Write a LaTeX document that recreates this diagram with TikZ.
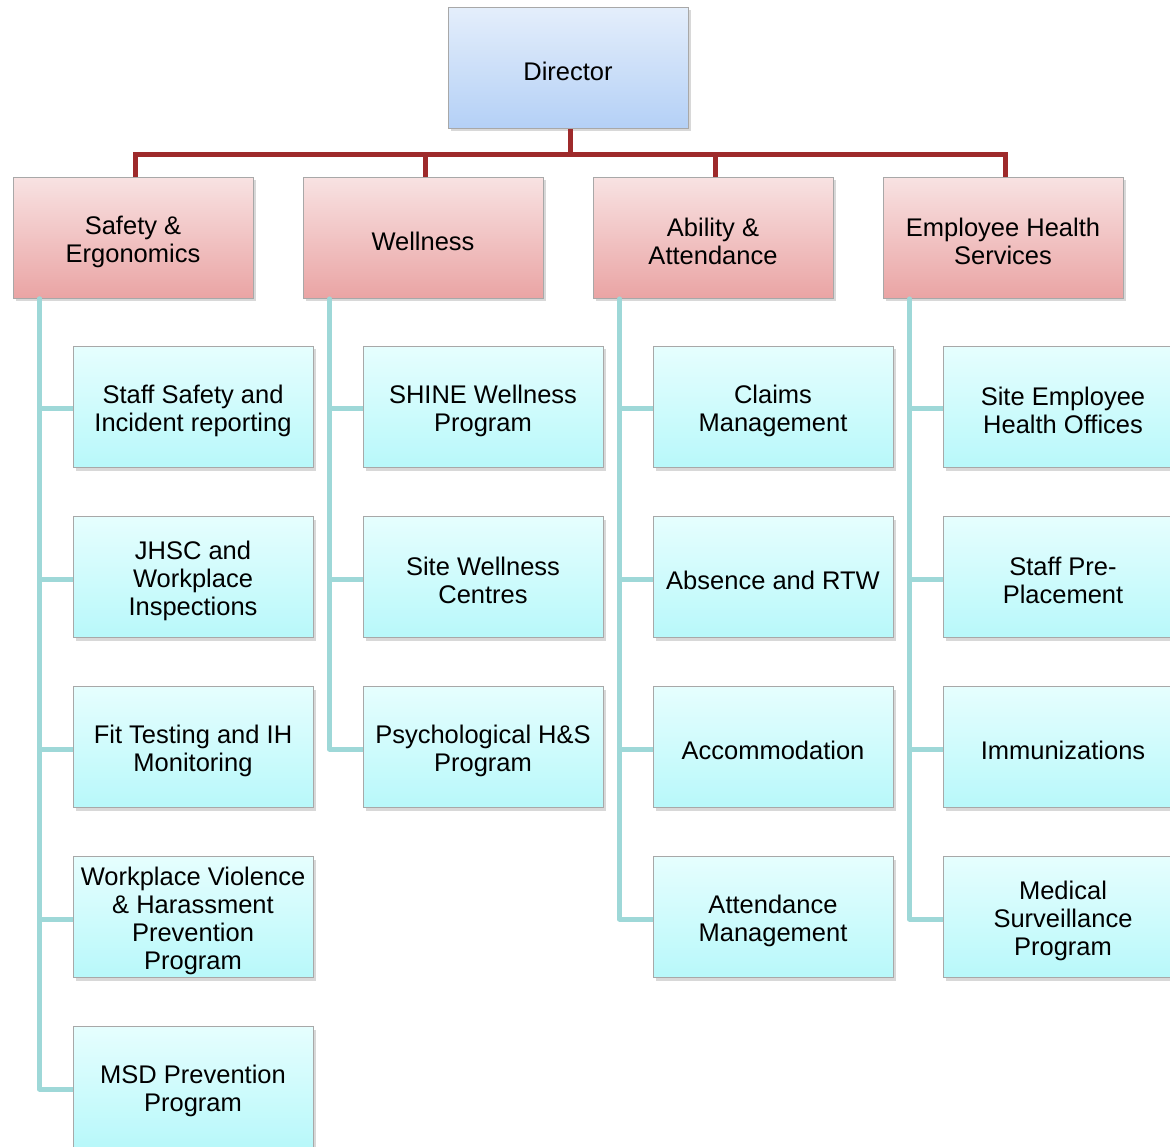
\documentclass[tikz,border=0pt]{standalone}
\usepackage{fontspec}
\setmainfont{Liberation Sans}
\usetikzlibrary{shadows}
\definecolor{dirtop}{HTML}{E4EEFB}
\definecolor{dirbot}{HTML}{B4D0F6}
\definecolor{redtop}{HTML}{F8E2E2}
\definecolor{redbot}{HTML}{EAA4A4}
\definecolor{cyantop}{HTML}{E6FEFE}
\definecolor{cyanbot}{HTML}{B8F8FA}
\definecolor{redline}{HTML}{9E2A2B}
\definecolor{tealline}{HTML}{9ED8D8}
\definecolor{boxborder}{HTML}{A8A8A8}
\newcommand\orgbox[4]{%
  \node[#1] (#2) at (#3) {};
  \node[boxtext] (#2t) at ([yshift=-3.5pt]#2.center) {#4};}
\begin{document}
\begin{tikzpicture}[x=1pt,y=-1pt,
  box/.style={draw=boxborder, line width=0.8pt, minimum width=240pt, minimum height=121pt,
    inner sep=0pt,
    drop shadow={opacity=0.3, shadow xshift=2.5pt, shadow yshift=-3pt}},
  boxtext/.style={inner sep=1pt, align=center, font=\fontsize{25.5}{28}\selectfont},
  dirbox/.style={box, top color=dirtop, bottom color=dirbot},
  redbox/.style={box, top color=redtop, bottom color=redbot},
  cybox/.style={box, top color=cyantop, bottom color=cyanbot},
  redconn/.style={draw=redline, line width=5pt},
  tealconn/.style={draw=tealline, line width=5pt, line join=round, line cap=round}]
\useasboundingbox (0,0) rectangle (1170,1147);
\clip (0,0) rectangle (1170,1147);
\fill[white] (0,0) rectangle (1170,1147);

\coordinate (bus) at (570,155);

\orgbox{dirbox}{dir}{568,68}{Director}
\orgbox{redbox}{s1}{133,238}{Safety \&\\Ergonomics}
\orgbox{redbox}{s2}{423,238}{Wellness}
\orgbox{redbox}{s3}{713,238}{Ability \&\\Attendance}
\orgbox{redbox}{s4}{1003,238}{Employee Health\\Services}

\draw[redconn] (dir.south -| bus) -- (bus);
\draw[redconn] ([xshift=2pt]s1.north) -- ([xshift=2pt]s1.north |- bus) -- ([xshift=2pt]s4.north |- bus) -- ([xshift=2pt]s4.north);
\draw[redconn] ([xshift=2pt]s2.north |- bus) -- ([xshift=2pt]s2.north);
\draw[redconn] ([xshift=2pt]s3.north |- bus) -- ([xshift=2pt]s3.north);

% column 1
\draw[tealconn] ([xshift=27pt]s1.south west) |- (40,1089) -- (75,1089);
\draw[tealconn] ([xshift=27pt]s1.south west) |- (75,409);
\draw[tealconn] (40,579) -- (75,579);
\draw[tealconn] (40,749) -- (75,749);
\draw[tealconn] (40,919) -- (75,919);
% column 2
\draw[tealconn] ([xshift=27pt]s2.south west) |- (365,749);
\draw[tealconn] (330,409) -- (365,409);
\draw[tealconn] (330,579) -- (365,579);
% column 3
\draw[tealconn] ([xshift=27pt]s3.south west) |- (655,919);
\draw[tealconn] (620,409) -- (655,409);
\draw[tealconn] (620,579) -- (655,579);
\draw[tealconn] (620,749) -- (655,749);
% column 4
\draw[tealconn] ([xshift=27pt]s4.south west) |- (945,919);
\draw[tealconn] (910,409) -- (945,409);
\draw[tealconn] (910,579) -- (945,579);
\draw[tealconn] (910,749) -- (945,749);

\orgbox{cybox}{c11}{193,407}{Staff Safety and\\Incident reporting}
\orgbox{cybox}{c12}{193,577}{JHSC and\\Workplace\\Inspections}
\orgbox{cybox}{c13}{193,747}{Fit Testing and IH\\Monitoring}
\orgbox{cybox}{c14}{193,917}{Workplace Violence\\\& Harassment\\Prevention\\Program}
\orgbox{cybox}{c15}{193,1087}{MSD Prevention\\Program}

\orgbox{cybox}{c21}{483,407}{SHINE Wellness\\Program}
\orgbox{cybox}{c22}{483,577}{Site Wellness\\Centres}
\orgbox{cybox}{c23}{483,747}{Psychological H\&S\\Program}

\orgbox{cybox}{c31}{773,407}{Claims\\Management}
\orgbox{cybox}{c32}{773,577}{Absence and RTW}
\orgbox{cybox}{c33}{773,747}{Accommodation}
\orgbox{cybox}{c34}{773,917}{Attendance\\Management}

\orgbox{cybox}{c41}{1063,407}{Site Employee\\Health Offices}
\orgbox{cybox}{c42}{1063,577}{Staff Pre-\\Placement}
\orgbox{cybox}{c43}{1063,747}{Immunizations}
\orgbox{cybox}{c44}{1063,917}{Medical\\Surveillance\\Program}
\end{tikzpicture}
\end{document}
